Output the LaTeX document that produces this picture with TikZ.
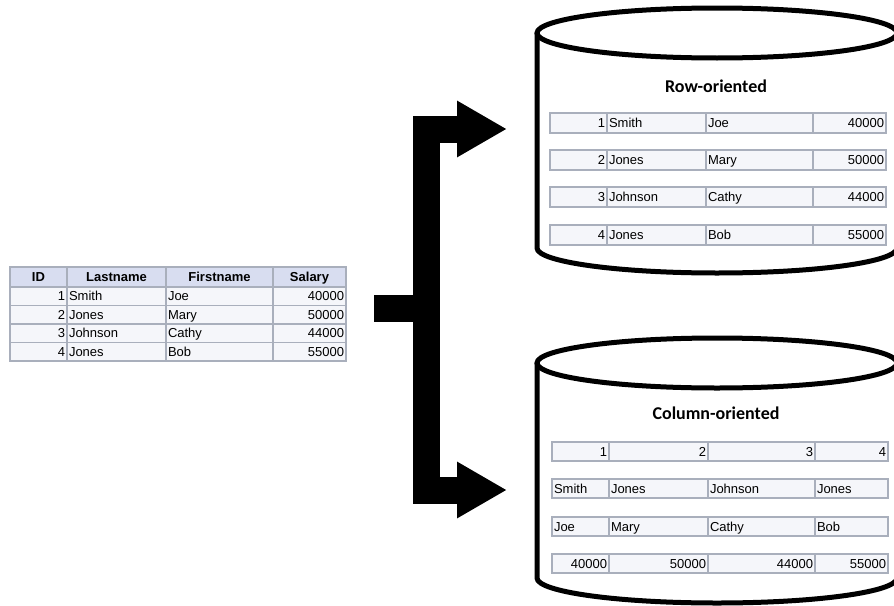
\documentclass[tikz,border=0pt]{standalone}
\usepackage{fontspec}
\setmainfont{Liberation Sans}
\newfontfamily\titlefont{Carlito}
\usetikzlibrary{arrows.meta}
\definecolor{cellline}{HTML}{A9AFBC}
\definecolor{cellfill}{HTML}{F5F6FA}
\definecolor{headfill}{HTML}{D8DDF0}
\begin{document}
\begin{tikzpicture}
		    [%%%%%%%%%%%%%%%%%%%%%%%%%%%%%%
		        x=1pt, y=-1pt,
		        cell/.style={rectangle,draw=cellline,fill=cellfill,line width=1.5pt,inner xsep=2pt,inner ysep=0pt,text height=11.5pt,text depth=2.5pt,minimum height=19pt,font=\fontsize{13}{14}\selectfont},
		        head/.style={cell,fill=headfill,minimum height=20pt,align=center,font=\fontsize{13}{14}\selectfont\bfseries},
		        num/.style={cell,align=right},
		        txt/.style={cell,align=left},
		        c1/.style={text width=53pt},
		        c2/.style={text width=95pt},
		        c3/.style={text width=103pt},
		        c4/.style={text width=69pt},
		        title/.style={font=\fontsize{18}{20}\selectfont\titlefont\bfseries},
		        drum/.style={draw=black,line width=5pt},
		        fork/.style={line width=27pt,-{Triangle[length=50pt,width=53pt]}},
		    ]%%%%%%%%%%%%%%%%%%%%%%%%%%%%%%
		\useasboundingbox (0,0) rectangle (894,605);
		% source table
		\node[head, c1] (hid) at (38.5,277) {ID};
		\node[head, c2] (hlast) at (116.5,277) {Lastname};
		\node[head, c3] (hfirst) at (219.5,277) {Firstname};
		\node[head, c4] (hsal) at (309.5,277) {Salary};
		\node[num, c1, minimum height=18.5pt] (id1) at (38.5,296) {1};
		\node[txt, c2, minimum height=18.5pt] (last1) at (116.5,296) {Smith};
		\node[txt, c3, minimum height=18.5pt] (first1) at (219.5,296) {Joe};
		\node[num, c4, minimum height=18.5pt] (sal1) at (309.5,296) {40000};
		\node[num, c1, minimum height=18.5pt] (id2) at (38.5,314.5) {2};
		\node[txt, c2, minimum height=18.5pt] (last2) at (116.5,314.5) {Jones};
		\node[txt, c3, minimum height=18.5pt] (first2) at (219.5,314.5) {Mary};
		\node[num, c4, minimum height=18.5pt] (sal2) at (309.5,314.5) {50000};
		\node[num, c1, minimum height=18.5pt] (id3) at (38.5,333) {3};
		\node[txt, c2, minimum height=18.5pt] (last3) at (116.5,333) {Johnson};
		\node[txt, c3, minimum height=18.5pt] (first3) at (219.5,333) {Cathy};
		\node[num, c4, minimum height=18.5pt] (sal3) at (309.5,333) {44000};
		\node[num, c1, minimum height=18.5pt] (id4) at (38.5,351.5) {4};
		\node[txt, c2, minimum height=18.5pt] (last4) at (116.5,351.5) {Jones};
		\node[txt, c3, minimum height=18.5pt] (first4) at (219.5,351.5) {Bob};
		\node[num, c4, minimum height=18.5pt] (sal4) at (309.5,351.5) {55000};
		% fork arrow
		\coordinate (fork) at (374,308);
		\coordinate (rowin) at (507,129);
		\coordinate (colin) at (507,490);
		\draw[fork] (fork) -- ++(52,0) |- (rowin);
		\draw[fork] (fork) -- ++(52,0) |- (colin);
		% row store
		\draw[drum] (717,33) ellipse [x radius=180, y radius=25];
		\draw[drum] (537,33) -- (537,248) arc [start angle=180, end angle=0, x radius=180, y radius=25] -- (897,33);
		\node[title] (rowtitle) at (716,86) {Row-oriented};
		\node[num, c1, minimum height=20pt] (r1id) at (578.5,123) {1};
		\node[txt, c2, minimum height=20pt] (r1last) at (656.5,123) {Smith};
		\node[txt, c3, minimum height=20pt] (r1first) at (759.5,123) {Joe};
		\node[num, c4, minimum height=20pt] (r1sal) at (849.5,123) {40000};
		\node[num, c1, minimum height=20pt] (r2id) at (578.5,160) {2};
		\node[txt, c2, minimum height=20pt] (r2last) at (656.5,160) {Jones};
		\node[txt, c3, minimum height=20pt] (r2first) at (759.5,160) {Mary};
		\node[num, c4, minimum height=20pt] (r2sal) at (849.5,160) {50000};
		\node[num, c1, minimum height=20pt] (r3id) at (578.5,197) {3};
		\node[txt, c2, minimum height=20pt] (r3last) at (656.5,197) {Johnson};
		\node[txt, c3, minimum height=20pt] (r3first) at (759.5,197) {Cathy};
		\node[num, c4, minimum height=20pt] (r3sal) at (849.5,197) {44000};
		\node[num, c1, minimum height=20pt] (r4id) at (578.5,235) {4};
		\node[txt, c2, minimum height=20pt] (r4last) at (656.5,235) {Jones};
		\node[txt, c3, minimum height=20pt] (r4first) at (759.5,235) {Bob};
		\node[num, c4, minimum height=20pt] (r4sal) at (849.5,235) {55000};
		% column store
		\draw[drum] (717,363) ellipse [x radius=180, y radius=25];
		\draw[drum] (537,363) -- (537,578) arc [start angle=180, end angle=0, x radius=180, y radius=25] -- (897,363);
		\node[title] (coltitle) at (716,413) {Column-oriented};
		\node[num, c1] (k1id) at (580.5,451.5) {1};
		\node[num, c2] (k2id) at (658.5,451.5) {2};
		\node[num, c3] (k3id) at (761.5,451.5) {3};
		\node[num, c4] (k4id) at (851.5,451.5) {4};
		\node[txt, c1] (k1last) at (580.5,488.5) {Smith};
		\node[txt, c2] (k2last) at (658.5,488.5) {Jones};
		\node[txt, c3] (k3last) at (761.5,488.5) {Johnson};
		\node[txt, c4] (k4last) at (851.5,488.5) {Jones};
		\node[txt, c1] (k1first) at (580.5,526.5) {Joe};
		\node[txt, c2] (k2first) at (658.5,526.5) {Mary};
		\node[txt, c3] (k3first) at (761.5,526.5) {Cathy};
		\node[txt, c4] (k4first) at (851.5,526.5) {Bob};
		\node[num, c1] (k1sal) at (580.5,563.5) {40000};
		\node[num, c2] (k2sal) at (658.5,563.5) {50000};
		\node[num, c3] (k3sal) at (761.5,563.5) {44000};
		\node[num, c4] (k4sal) at (851.5,563.5) {55000};
		\end{tikzpicture}
\end{document}
